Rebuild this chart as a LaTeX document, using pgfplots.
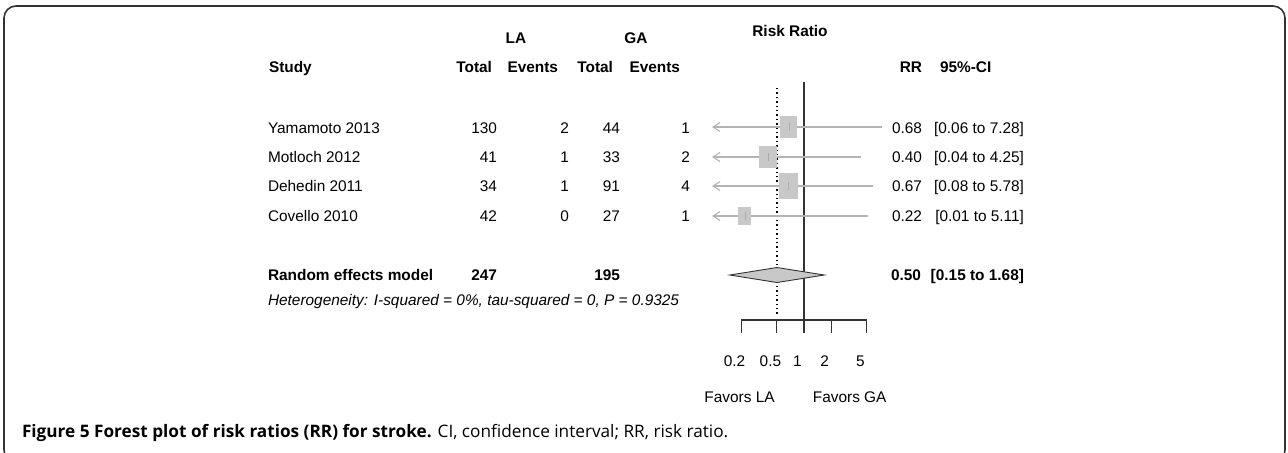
\documentclass[border=0pt]{standalone}
\usepackage{pgfplots}
\pgfplotsset{compat=1.18}
\usepackage{fontspec}
\setmainfont{Liberation Sans}
\newfontfamily\capfont{Open Sans}
\usetikzlibrary{arrows.meta}

\definecolor{framegray}{HTML}{333333}
\definecolor{cigray}{HTML}{B4B4B4}
\definecolor{sqgray}{HTML}{C8C8C8}
\definecolor{midgray}{HTML}{ABABAB}

% 1 px of the reference = 0.5pt; forest scale: 90 px (45pt) per decade, RR=1 at x=804 px
\begin{document}
\fontsize{7.7}{9}\selectfont
\begin{tikzpicture}[x=0.5pt, y=-0.5pt,
  every node/.style={inner sep=0pt, outer sep=0pt},
  L/.style={anchor=base west}, R/.style={anchor=base east}, C/.style={anchor=base}]
\useasboundingbox (0,0) rectangle (1288,452);
\draw[framegray, line width=0.8pt, rounded corners=6pt] (4,6) rectangle (1285,462);

% forest: lines, boxes, diamond
\begin{axis}[
  at={(343.455pt,-226pt)}, anchor=south west,
  scale only axis, width=103.546pt, height=226pt,
  xmode=log, xmin=0.05, xmax=10,
  ymin=0, ymax=452, y dir=reverse,
  axis lines=none, clip=false]
  % reference lines
  \addplot[black!80, line width=0.6pt] coordinates {(1,82) (1,320)};
  \addplot[black, line width=0.6pt, dash pattern=on 0.7pt off 1.5pt] coordinates {(0.50,88) (0.50,316)};
  % confidence intervals (lower ends cut at the plot edge)
  \addplot[cigray, line width=0.55pt, {Straight Barb[length=3.5pt,width=4.5pt]}-] coordinates {(0.095,127) (7.28,127)};
  \addplot[cigray, line width=0.55pt, {Straight Barb[length=3.5pt,width=4.5pt]}-] coordinates {(0.095,157) (4.25,157)};
  \addplot[cigray, line width=0.55pt, {Straight Barb[length=3.5pt,width=4.5pt]}-] coordinates {(0.095,186) (5.78,186)};
  \addplot[cigray, line width=0.55pt, {Straight Barb[length=3.5pt,width=4.5pt]}-] coordinates {(0.095,216) (5.11,216)};
  % study weights
  \addplot[fill=sqgray, draw=none] coordinates {(0.547,116) (0.845,116) (0.845,138) (0.547,138)} -- cycle;
  \addplot[fill=sqgray, draw=none] coordinates {(0.318,146) (0.504,146) (0.504,168) (0.318,168)} -- cycle;
  \addplot[fill=sqgray, draw=none] coordinates {(0.525,173) (0.854,173) (0.854,199) (0.525,199)} -- cycle;
  \addplot[fill=sqgray, draw=none] coordinates {(0.186,207) (0.260,207) (0.260,225) (0.186,225)} -- cycle;
  % point estimates
  \addplot[midgray, line width=0.3pt] coordinates {(0.68,123) (0.68,131)};
  \addplot[midgray, line width=0.3pt] coordinates {(0.40,153) (0.40,161)};
  \addplot[midgray, line width=0.3pt] coordinates {(0.67,182) (0.67,190)};
  \addplot[midgray, line width=0.3pt] coordinates {(0.22,212) (0.22,220)};
  % pooled estimate
  \addplot[fill=sqgray, draw=black!80, line width=0.45pt] coordinates {(0.15,275) (0.50,267.5) (1.68,275) (0.50,282.5)} -- cycle;
\end{axis}

% risk ratio scale
\begin{axis}[
  at={(370.546pt,-160pt)}, anchor=south west,
  scale only axis, width=62.907pt, height=10pt,
  xmode=log, xmin=0.2, xmax=5, ymin=0, ymax=1,
  axis x line=bottom, axis y line=none,
  x axis line style={-, framegray, line width=0.55pt},
  xtick={0.2,0.5,1,2,5}, xticklabels={0.2,0.5,1,2,5}, minor xtick={},
  tick align=outside, major tick length=6.5pt,
  major tick style={framegray, line width=0.55pt},
  xticklabel style={font=\fontsize{7.7}{9}\selectfont, inner sep=0pt, yshift=-11.5pt, xshift=-3.25pt}]
\end{axis}

% header
\node[C] at (516,43.8) {\bfseries LA};
\node[C] at (636,43.8) {\bfseries GA};
\node[C] at (790,36.2) {\bfseries Risk Ratio};
\node[L] at (269,72.2) {\bfseries Study};
\node[R] at (492,72.2) {\bfseries Total};
\node[R] at (558,72.2) {\bfseries Events};
\node[R] at (613,72.2) {\bfseries Total};
\node[R] at (680,72.2) {\bfseries Events};
\node[R] at (922,72.2) {\bfseries RR};
\node[L] at (940,72.2) {\bfseries 95\%-CI};

% studies
\node[L] at (268,133.5) {Yamamoto 2013};
\node[R] at (497,133.5) {130}; \node[R] at (569,133.5) {2};
\node[R] at (620,133.5) {44};  \node[R] at (690,133.5) {1};
\node[R] at (922,133.5) {0.68}; \node[R] at (1024,133.5) {[0.06 to 7.28]};

\node[L] at (268,162.5) {Motloch 2012};
\node[R] at (497,162.5) {41}; \node[R] at (569,162.5) {1};
\node[R] at (620,162.5) {33}; \node[R] at (690,162.5) {2};
\node[R] at (922,162.5) {0.40}; \node[R] at (1024,162.5) {[0.04 to 4.25]};

\node[L] at (268,191.5) {Dehedin 2011};
\node[R] at (497,191.5) {34}; \node[R] at (569,191.5) {1};
\node[R] at (620,191.5) {91}; \node[R] at (690,191.5) {4};
\node[R] at (922,191.5) {0.67}; \node[R] at (1024,191.5) {[0.08 to 5.78]};

\node[L] at (268,221.5) {Covello 2010};
\node[R] at (497,221.5) {42}; \node[R] at (569,221.5) {0};
\node[R] at (620,221.5) {27}; \node[R] at (690,221.5) {1};
\node[R] at (922,221.5) {0.22}; \node[R] at (1024,221.5) {[0.01 to 5.11]};

% pooled
\node[L] at (268,280.5) {\bfseries Random effects model};
\node[R] at (497,280.5) {\bfseries 247};
\node[R] at (620,280.5) {\bfseries 195};
\node[R] at (921,280.5) {\bfseries 0.50};
\node[R] at (1024,280.5) {\bfseries [0.15 to 1.68]};
\node[L] at (268,305) {\itshape Heterogeneity: I-squared = 0\%, tau-squared = 0, P = 0.9325};

\node[C] at (739.5,402.8) {Favors LA};
\node[C] at (849.7,402.8) {Favors GA};

% caption
\node[L] at (22,437) {\capfont\fontsize{8.6}{10}\selectfont\textbf{Figure 5 Forest plot of risk ratios (RR) for stroke.} CI, confidence interval; RR, risk ratio.};
\end{tikzpicture}
\end{document}
